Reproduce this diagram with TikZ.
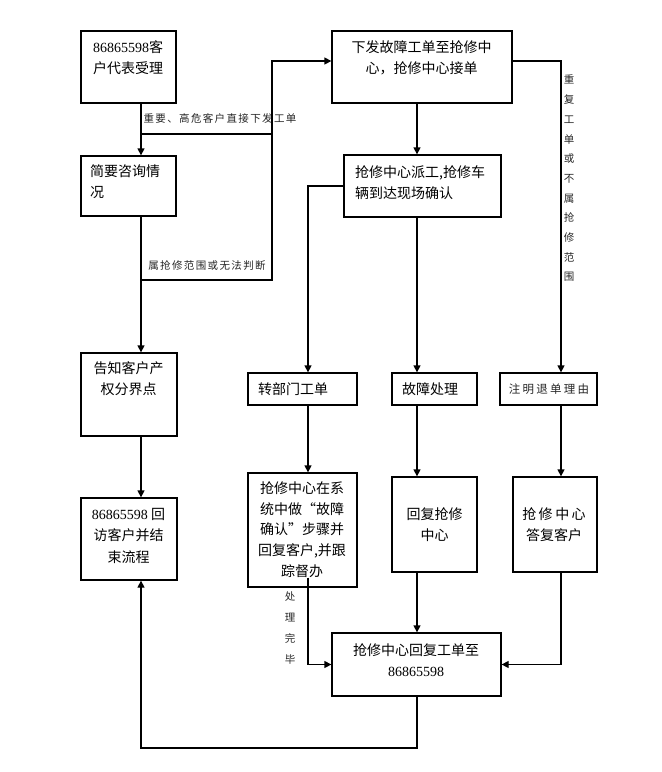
\documentclass[tikz,border=0pt]{standalone}
\usepackage{fontspec}
\setmainfont{Liberation Serif}
\newfontfamily\cjk{Noto Sans CJK SC}
\newfontfamily\cjksp[LetterSpace=13]{Noto Sans CJK SC}
\newfontfamily\cjkspb[LetterSpace=20]{Noto Sans CJK SC}
\newcommand{\dg}[1]{{\rmfamily #1}}
\usetikzlibrary{arrows.meta,calc}
\tikzset{
  box/.style={draw=black, line width=1.3pt, fill=none, inner sep=0pt},
  txt/.style={inner sep=0pt, font=\cjk\fontsize{14}{21}\selectfont, text=black},
  note/.style={inner sep=0pt, font=\cjksp\fontsize{10.5}{12}\selectfont, text=black!85},
  conn/.style={draw=black, line width=1.3pt},
  arr/.style={conn, -{Triangle[length=7pt,width=7pt]}}
}
\begin{document}
\begin{tikzpicture}[x=1pt,y=-1pt]
\fill[white] (0,0) rectangle (662,772);
\useasboundingbox (0,0) rectangle (662,772);
% helper coordinates
\coordinate (c1) at (141,0);
\coordinate (bus) at (272,0);
\coordinate (c2) at (308,0);
\coordinate (c3) at (417,0);
\coordinate (c4) at (561,0);
\coordinate (r61) at (0,61);
\coordinate (r134) at (0,134);
\coordinate (r280) at (0,280);
\coordinate (r748) at (0,748);
% boxes
\node[box, minimum width=95pt, minimum height=72pt] (A) at (128.5,67) {};
\node[box, minimum width=95pt, minimum height=60pt] (B) at (128.5,186) {};
\node[box, minimum width=96pt, minimum height=83pt] (C) at (129,394.5) {};
\node[box, minimum width=96pt, minimum height=82pt] (D) at (129,539) {};
\node[box, minimum width=180pt, minimum height=72pt] (E) at (422,67) {};
\node[box, minimum width=157pt, minimum height=62pt] (F) at (422.5,186) {};
\node[box, minimum width=109pt, minimum height=32pt] (G) at (302.5,389) {};
\node[box, minimum width=85pt, minimum height=32pt] (H) at (434.5,389) {};
\node[box, minimum width=97pt, minimum height=32pt] (I) at (548.5,389) {};
\node[box, minimum width=109pt, minimum height=114pt] (J) at (302.5,530) {};
\node[box, minimum width=85pt, minimum height=95pt] (K) at (434.5,524.5) {};
\node[box, minimum width=84pt, minimum height=95pt] (L) at (555,524.5) {};
\node[box, minimum width=169pt, minimum height=63pt] (M) at (416.5,664.5) {};
% texts
\node[txt, align=center] (At) at (128,57.5) {\dg{86865598}客\\户代表受理};
\node[txt, align=left, anchor=west] (Bt) at (90,182) {简要咨询情\\况};
\node[txt, align=center] (Ct) at (128.5,379) {告知客户产\\权分界点};
\node[txt, align=center, font=\cjk\fontsize{14}{21.5}\selectfont] (Dt) at (128.5,535.5) {\dg{86865598} 回\\访客户并结\\束流程};
\node[txt, align=center] (Et) at (421.5,57.5) {下发故障工单至抢修中\\心，抢修中心接单};
\node[txt, align=left, anchor=west] (Ft) at (355,182.5) {抢修中心派工,抢修车\\辆到达现场确认};
\node[txt, anchor=west] (Gt) at (258,389) {转部门工单};
\node[txt, anchor=west] (Ht) at (402,389) {故障处理};
\node[txt, font=\cjkspb\fontsize{11.5}{13}\selectfont, text=black!85] (It) at (549,389) {注明退单理由};
\node[txt, align=center, font=\cjk\fontsize{14}{20.8}\selectfont] (Jt) at (302,529.5) {抢修中心在系\\统中做“故障\\确认”步骤并\\回复客户,并跟\\踪督办};
\node[txt, align=center] (Kt) at (434.5,524.5) {回复抢修\\中心};
\node[txt, align=center] (Lt) at (554,524.5) {抢\hspace{2.5pt}修\hspace{2.5pt}中\hspace{2.5pt}心\\答复客户};
\node[txt, align=center] (Mt) at (416,660) {抢修中心回复工单至\\\dg{86865598}};
% notes
\node[note] (n1) at (220,118) {重要、高危客户直接下发工单};
\node[note] (n2) at (207,265) {属抢修范围或无法判断};
\node[note, align=center, font=\cjk\fontsize{10.5}{19.7}\selectfont] (n3) at (569,178.5) {重\\复\\工\\单\\或\\不\\属\\抢\\修\\范\\围};
\node[note, align=center, font=\cjk\fontsize{10.5}{20.7}\selectfont] (n4) at (290,628) {处\\理\\完\\毕};
% connectors
\draw[arr] (A.south -| c1) -- (B.north -| c1);
\draw[arr] (c1 |- r134) -- (bus |- r134) -- (bus |- r61) -- (E.west |- r61);
\draw[arr] (B.south -| c1) -- (C.north -| c1);
\draw[conn] (c1 |- r280) -- (bus |- r280) -- (bus |- r134);
\draw[arr] (C.south -| c1) -- (D.north -| c1);
\draw[arr] (E.south -| c3) -- (F.north -| c3);
\draw[arr] (E.east |- r61) -- (c4 |- r61) -- (I.north -| c4);
\draw[arr] (F.west) -- (c2 |- F.west) -- (G.north -| c2);
\draw[arr] (F.south -| c3) -- (H.north -| c3);
\draw[arr] (G.south -| c2) -- (J.north -| c2);
\draw[arr] (H.south -| c3) -- (K.north -| c3);
\draw[arr] (I.south -| c4) -- (L.north -| c4);
\draw[arr] ($(J.south -| c2)+(0,-10)$) -- (c2 |- M.west) -- (M.west);
\draw[arr] (K.south -| c3) -- (M.north -| c3);
\draw[arr] (L.south -| c4) -- (c4 |- M.east) -- (M.east);
\draw[arr] (M.south -| c3) -- (c3 |- r748) -- (c1 |- r748) -- (D.south -| c1);
\end{tikzpicture}
\end{document}
